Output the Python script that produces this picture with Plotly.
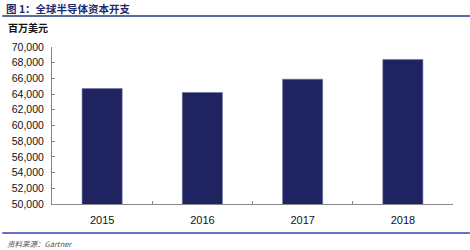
import plotly.graph_objects as go

years = ["2015", "2016", "2017", "2018"]
capex = [64700, 64200, 65900, 68400]
y_ticks = list(range(50000, 70001, 2000))
y_tick_labels = [f"{v:,}" for v in y_ticks]

L, R, T, B = 50, 17, 47, 46
W, H = 470, 250
pw, ph = W - L - R, H - T - B

def px(x):
    return (x - L) / pw

def py(y):
    return (H - B - y) / ph

fig = go.Figure(go.Bar(
    x=years, y=capex, width=0.4,
    marker=dict(color="#1f235f", line=dict(color="#6a6fa0", width=0.6)),
))

fig.update_layout(
    width=W, height=H,
    margin=dict(l=L, r=R, t=T, b=B),
    plot_bgcolor="white", paper_bgcolor="white",
    showlegend=False,
    font=dict(family="Liberation Sans, Arial", size=11, color="#111"),
    bargap=0.6,
)
fig.update_yaxes(
    range=[50000, 70000], tickvals=y_ticks, ticktext=y_tick_labels,
    showgrid=False, zeroline=False,
    showline=True, linecolor="#888", linewidth=1,
    ticks="inside", ticklen=3, tickcolor="#888",
    ticklabelstandoff=5,
    tickfont=dict(size=10.5, color="#111"),
)
fig.update_xaxes(
    showgrid=False, showline=True, linecolor="#888", linewidth=1,
    ticks="inside", ticklen=3, tickcolor="#888", tickson="boundaries",
    tickfont=dict(size=11, color="#111"),
    ticklabelstandoff=6,
)

fig.add_annotation(text="<b>图 1：全球半导体资本开支</b>", xref="paper", yref="paper",
                   x=px(2), y=py(8), xanchor="left", yanchor="middle", showarrow=False,
                   font=dict(family="Noto Sans CJK SC", size=10.5, color="#1c2a6e"))
fig.add_shape(type="line", xref="paper", yref="paper",
              x0=px(0), x1=px(470), y0=py(16), y1=py(16),
              line=dict(color="#2a3580", width=1.5))
fig.add_annotation(text="<b>百万美元</b>", xref="paper", yref="paper",
                   x=px(4), y=py(27), xanchor="left", yanchor="middle", showarrow=False,
                   font=dict(family="Noto Sans CJK SC", size=10, color="#111"))
fig.add_shape(type="line", xref="paper", yref="paper",
              x0=px(0), x1=px(470), y0=py(233), y1=py(233),
              line=dict(color="#6a6fc0", width=1.8))
fig.add_annotation(text="<i>资料来源：Gartner</i>", xref="paper", yref="paper",
                   x=px(3), y=py(243), xanchor="left", yanchor="middle", showarrow=False,
                   font=dict(family="Noto Sans CJK SC", size=7.5, color="#555"))

fig.write_html("out.html")
